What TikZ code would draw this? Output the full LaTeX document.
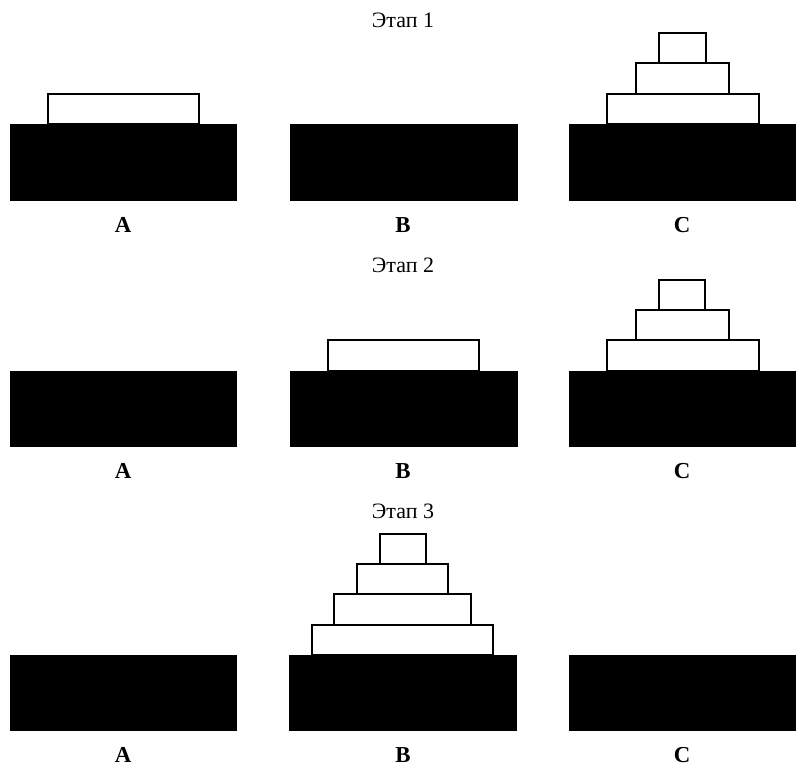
\documentclass[tikz,border=0pt]{standalone}
\usepackage{fontspec}
\setmainfont{Liberation Serif}
\usepackage{tikz}
\usetikzlibrary{positioning, calc}

\begin{document}
\begin{tikzpicture}[
    x=0.02cm, y=-0.02cm,
    base/.style={fill=black, draw=black},
    disk/.style={draw=black, fill=white, line width=1.3pt},
    stage/.style={font=\fontsize{12.5}{14}\selectfont, inner sep=0pt},
    peg/.style={font=\fontsize{13}{15}\selectfont\bfseries, inner sep=0pt},
]
    \useasboundingbox (0,0) rectangle (796,766);

    % Stage 1
    \node[stage] (t1) at (403,20) {Этап 1};
    \fill[base] (10,124) rectangle (236,200);
    \fill[base] (290,124) rectangle (517,200);
    \fill[base] (569,124) rectangle (796,200);
    \draw[disk] (48,94) rectangle (199,124);
    \draw[disk] (607,94) rectangle (759,124);
    \draw[disk] (636,63) rectangle (729,94);
    \draw[disk] (659,33) rectangle (706,63);
    \node[peg] (a1) at (123,225) {A};
    \node[peg] (b1) at (403,225) {B};
    \node[peg] (c1) at (682,225) {C};

    % Stage 2
    \node[stage] (t2) at (403,265) {Этап 2};
    \fill[base] (10,371) rectangle (236,446);
    \fill[base] (290,371) rectangle (517,446);
    \fill[base] (569,371) rectangle (796,446);
    \draw[disk] (328,340) rectangle (479,371);
    \draw[disk] (607,340) rectangle (759,371);
    \draw[disk] (636,310) rectangle (729,340);
    \draw[disk] (659,280) rectangle (705,310);
    \node[peg] (a2) at (123,471) {A};
    \node[peg] (b2) at (403,471) {B};
    \node[peg] (c2) at (682,471) {C};

    % Stage 3
    \node[stage] (t3) at (403,511) {Этап 3};
    \fill[base] (10,655) rectangle (236,730);
    \fill[base] (289,655) rectangle (516,730);
    \fill[base] (569,655) rectangle (796,730);
    \draw[disk] (312,625) rectangle (493,655);
    \draw[disk] (334,594) rectangle (471,625);
    \draw[disk] (357,564) rectangle (448,594);
    \draw[disk] (380,534) rectangle (426,564);
    \node[peg] (a3) at (123,755) {A};
    \node[peg] (b3) at (403,755) {B};
    \node[peg] (c3) at (682,755) {C};
\end{tikzpicture}
\end{document}
